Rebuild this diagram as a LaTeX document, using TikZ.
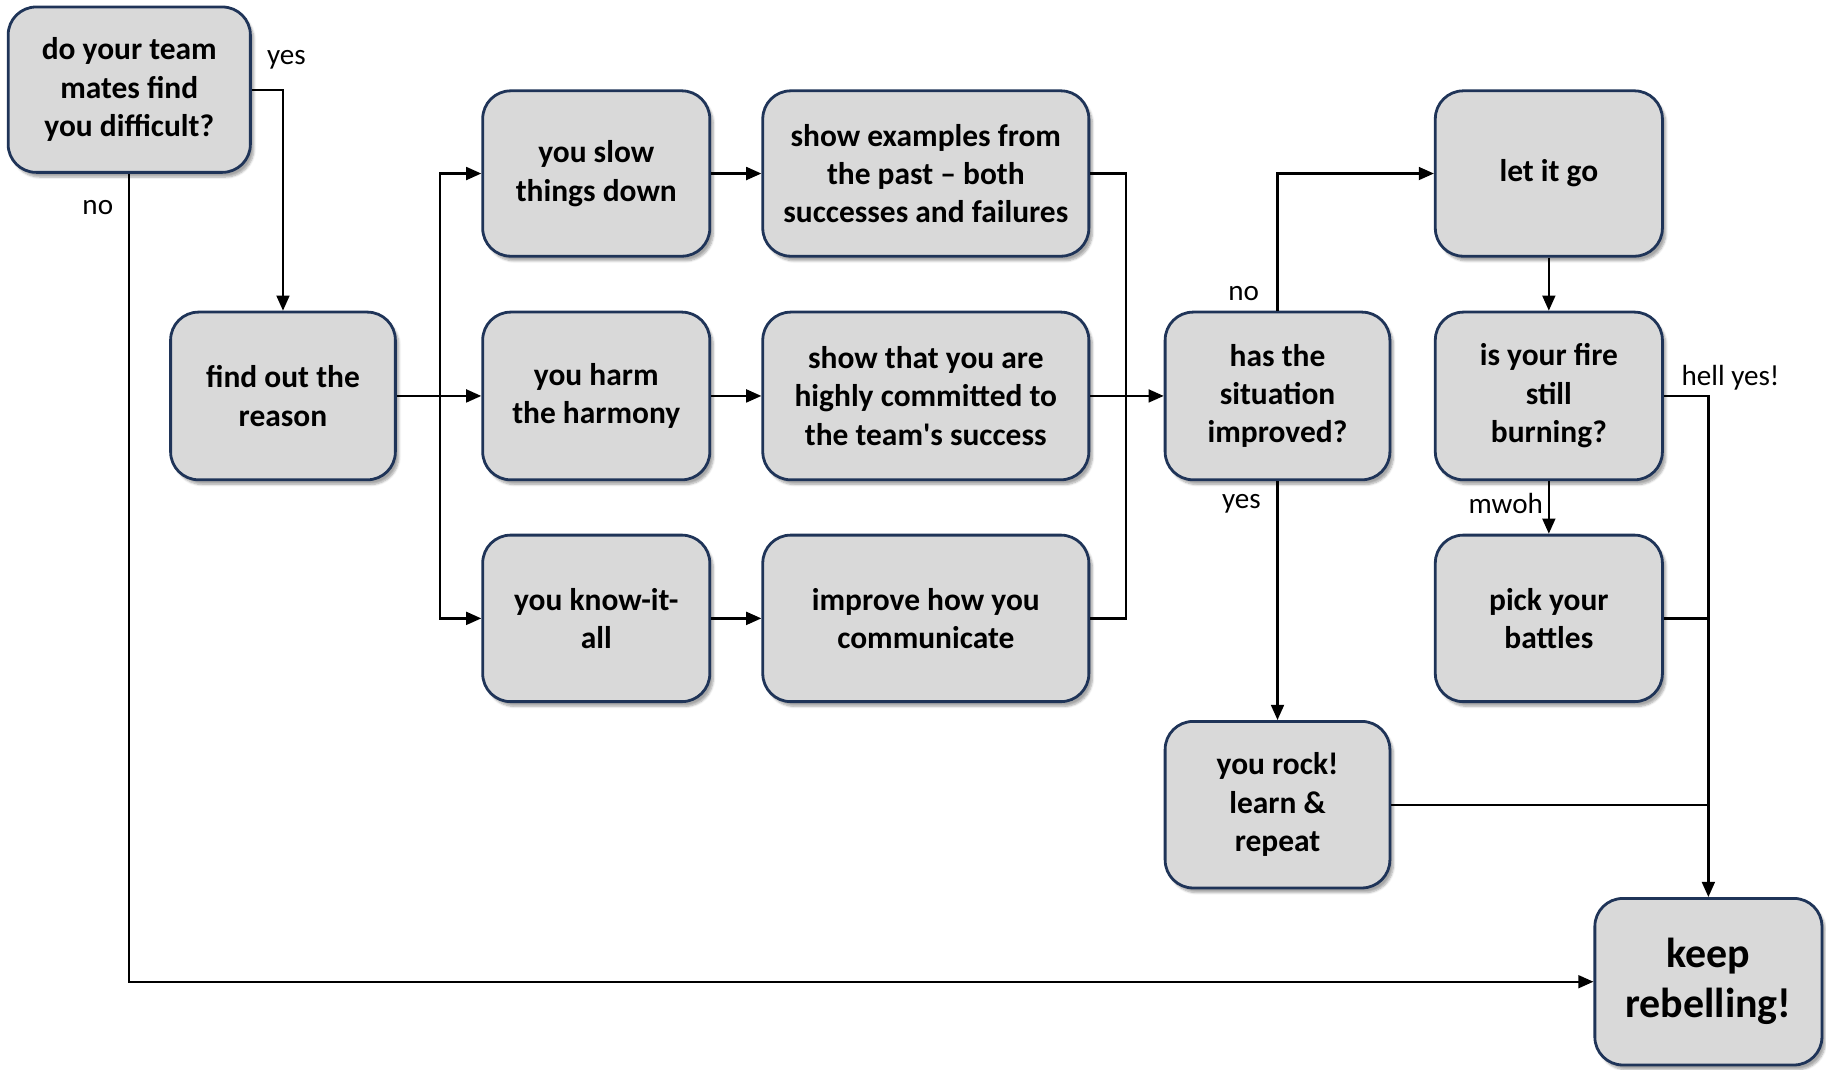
\documentclass[tikz,border=0pt]{standalone}
\usepackage{fontspec}
\setmainfont{Carlito}
\usetikzlibrary{arrows.meta,shadows.blur}
\definecolor{boxline}{HTML}{1F3458}
\definecolor{boxfill}{HTML}{D9D9D9}
\begin{document}
\begin{tikzpicture}[x=1pt,y=-1pt,
  box/.style={draw=boxline, line width=2.4pt, fill=boxfill, rounded corners=24pt,
    align=center, inner sep=0pt,
    font=\fontsize{27}{33}\selectfont\bfseries,
    blur shadow={shadow xshift=3pt, shadow yshift=-4pt, shadow blur steps=6, shadow opacity=35}},
  conn/.style={line width=2pt, draw=black},
  arr/.style={conn, -{Triangle[length=13pt,width=11pt]}},
  lbl/.style={font=\fontsize{25}{30}\selectfont, inner sep=0pt}]
\useasboundingbox (0,0) rectangle (1568,918);
% boxes
\node[box, minimum width=208pt, minimum height=142pt] (q1) at (111,77) {do your team\\mates find\\you difficult?};
\node[box, minimum width=193pt, minimum height=144pt] (reason) at (243,340) {find out the\\reason};
\node[box, minimum width=195pt, minimum height=142pt] (slow) at (512,149) {you slow\\things down};
\node[box, minimum width=195pt, minimum height=144pt] (harm) at (512,340) {you harm\\the harmony};
\node[box, minimum width=195pt, minimum height=143pt] (know) at (512,531) {you know-it-\\all};
\node[box, minimum width=280pt, minimum height=142pt] (past) at (795,149) {show examples from\\the past – both\\successes and failures};
\node[box, minimum width=280pt, minimum height=144pt] (commit) at (795,340) {show that you are\\highly committed to\\the team\textquotesingle s success};
\node[box, minimum width=280pt, minimum height=143pt] (comm) at (795,531) {improve how you\\communicate};
\node[box, minimum width=193pt, minimum height=144pt] (improved) at (1097,340) {has the\\situation\\improved?};
\node[box, minimum width=195pt, minimum height=142pt] (letgo) at (1330,149) {let it go};
\node[box, minimum width=195pt, minimum height=144pt] (fire) at (1330,340) {is your fire\\still\\burning?};
\node[box, minimum width=195pt, minimum height=143pt] (pick) at (1330,531) {pick your\\battles};
\node[box, minimum width=193pt, minimum height=143pt] (rock) at (1097,691) {you rock!\\learn \&\\repeat};
\node[box, minimum width=195pt, minimum height=143pt, font=\fontsize{36}{43}\selectfont\bfseries] (keep) at (1467,843) {keep\\rebelling!};
% junctions
\coordinate (j1) at (378,340);
\coordinate (j2) at (967,340);
% connectors
\draw[arr] (q1.east) -| (reason.north);
\draw[arr] (q1.south) |- (keep.west);
\draw[arr] (reason.east) -- (harm.west);
\draw[arr] (j1) |- (slow.west);
\draw[arr] (j1) |- (know.west);
\draw[arr] (slow.east) -- (past.west);
\draw[arr] (harm.east) -- (commit.west);
\draw[arr] (know.east) -- (comm.west);
\draw[conn] (past.east) -| (j2);
\draw[conn] (comm.east) -| (j2);
\draw[arr] (commit.east) -- (improved.west);
\draw[arr] (improved.north) |- (letgo.west);
\draw[arr] (improved.south) -- (rock.north);
\draw[arr] (letgo.south) -- (fire.north);
\draw[arr] (fire.south) -- (pick.north);
\draw[arr] (fire.east) -| (keep.north);
\draw[conn] (pick.east) -- (pick.east -| keep.north);
\draw[conn] (rock.east) -- (rock.east -| keep.north);
% labels
\node[lbl] (lyes1) at (246,51) {yes};
\node[lbl] (lno1) at (84,178) {no};
\node[lbl] (lno2) at (1068,252) {no};
\node[lbl] (lyes2) at (1066,433) {yes};
\node[lbl] (lhell) at (1486,324) {hell yes!};
\node[lbl] (lmwoh) at (1293,432) {mwoh};
\end{tikzpicture}
\end{document}
